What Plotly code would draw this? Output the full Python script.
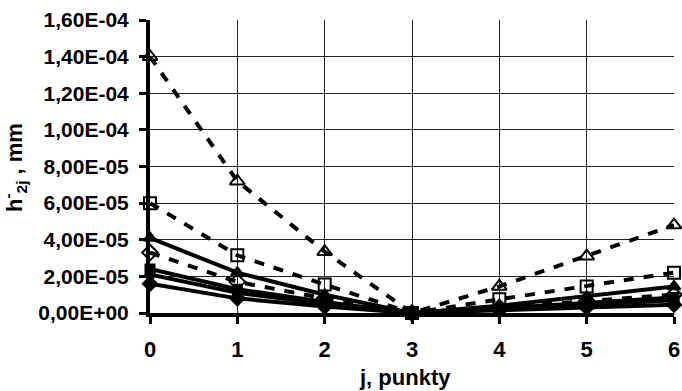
import plotly.graph_objects as go

x = [0, 1, 2, 3, 4, 5, 6]

s_tri_open = [1.40e-4, 7.2e-5, 3.35e-5, 0, 1.45e-5, 3.1e-5, 4.8e-5]
s_sq_open = [6.0e-5, 3.15e-5, 1.55e-5, 0, 7.5e-6, 1.45e-5, 2.2e-5]
s_dia_open = [3.3e-5, 1.7e-5, 8.0e-6, 0, 3.0e-6, 6.5e-6, 1.0e-5]
s_tri_fill = [4.1e-5, 2.2e-5, 1.0e-5, 0, 4.0e-6, 9.0e-6, 1.45e-5]
s_sq_fill = [2.4e-5, 1.3e-5, 6.0e-6, 0, 2.5e-6, 5.5e-6, 8.5e-6]
s_circ_fill = [2.1e-5, 1.1e-5, 5.0e-6, 0, 2.0e-6, 4.5e-6, 7.0e-6]
s_dia_fill = [1.6e-5, 8.0e-6, 3.5e-6, 0, 1.5e-6, 3.0e-6, 4.5e-6]

y_tickvals = [0, 2e-5, 4e-5, 6e-5, 8e-5, 1e-4, 1.2e-4, 1.4e-4, 1.6e-4]
y_ticktext = ["0,00E+00", "2,00E-05", "4,00E-05", "6,00E-05", "8,00E-05",
              "1,00E-04", "1,20E-04", "1,40E-04", "1,60E-04"]

FONT = "Liberation Sans, Arial, sans-serif"

fig = go.Figure()

def add(y, symbol, dash, size):
    fig.add_trace(go.Scatter(
        x=x, y=y, mode="lines+markers",
        line=dict(color="black", width=4, dash=dash),
        marker=dict(symbol=symbol, size=size, color="black",
                    line=dict(color="black", width=2)),
        cliponaxis=False, showlegend=False))

add(s_dia_fill, "diamond", "solid", 11)
add(s_circ_fill, "circle", "solid", 9)
add(s_sq_fill, "square", "solid", 9)
add(s_tri_fill, "triangle-up", "solid", 11)
add(s_dia_open, "diamond-open", "10px,10px", 12)
add(s_sq_open, "square-open", "10px,10px", 12)
add(s_tri_open, "triangle-up-open", "10px,10px", 13)

fig.update_layout(
    width=682, height=391,
    margin=dict(l=150, r=8, t=20, b=78),
    paper_bgcolor="white", plot_bgcolor="white",
    font=dict(family=FONT, size=20, color="black"),
    annotations=[
        dict(text="<b>j, punkty</b>", xref="paper", yref="paper",
             x=(405 - 150) / 524, y=-(377 - 313) / 293, showarrow=False,
             xanchor="center", yanchor="middle",
             font=dict(family=FONT, size=22, color="black")),
        dict(text="<b>h<sup>-</sup><sub>2j</sub> , mm</b>", xref="paper", yref="paper",
             x=-(150 - 14) / 524, y=(313 - 168) / 293, showarrow=False,
             xanchor="center", yanchor="middle", textangle=-90,
             font=dict(family=FONT, size=22, color="black")),
    ],
)
fig.update_xaxes(
    range=[0, 6], tickvals=x, ticktext=[str(v) for v in x],
    showgrid=True, gridcolor="#222", gridwidth=1,
    showline=True, linecolor="black", linewidth=4,
    ticks="outside", ticklen=7, tickwidth=3, tickcolor="black",
    tickfont=dict(family=FONT, size=22, color="black", weight="bold"),
    ticklabelstandoff=7, automargin=False,
    zeroline=False,
)
fig.update_yaxes(
    range=[0, 1.6e-4], tickvals=y_tickvals, ticktext=y_ticktext,
    showgrid=True, gridcolor="#222", gridwidth=1,
    showline=True, linecolor="black", linewidth=4,
    ticks="outside", ticklen=7, tickwidth=3, tickcolor="black",
    tickfont=dict(family=FONT, size=21, color="black", weight="bold"),
    ticklabelstandoff=6, automargin=False,
    zeroline=False,
)

fig.write_html("out.html", config={"displayModeBar": False},
               post_script="document.body.style.margin='0';document.body.style.overflow='hidden';")
